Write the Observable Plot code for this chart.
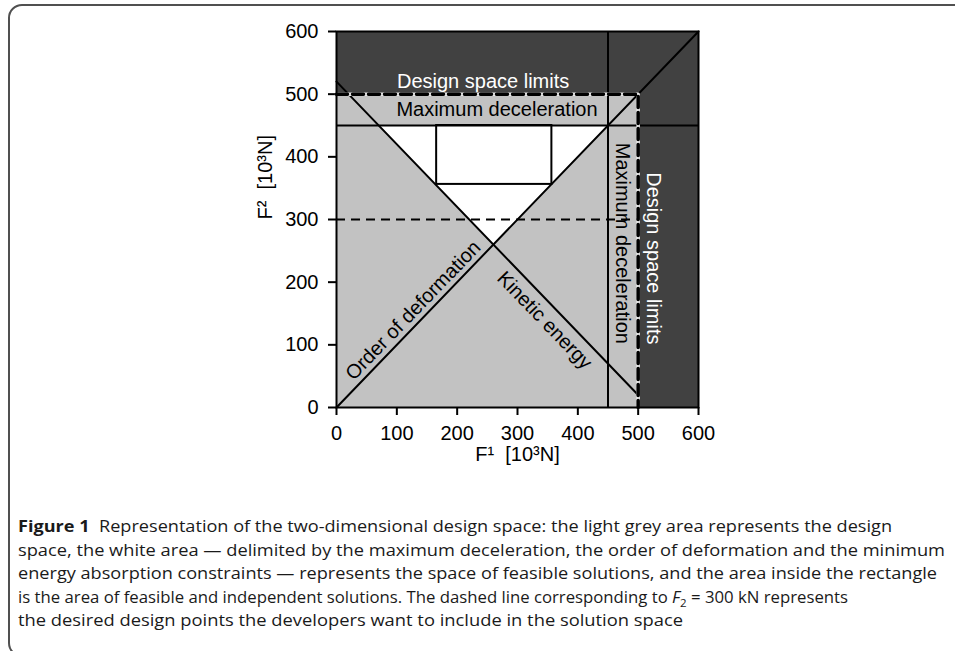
<!DOCTYPE html>
<html>
<head>
<meta charset="utf-8">
<script src="https://cdn.jsdelivr.net/npm/d3@7"></script>
<script src="https://cdn.jsdelivr.net/npm/@observablehq/plot@0.6"></script>
<style>
  html, body { margin: 0; padding: 0; background: #fff; width: 955px; height: 651px; overflow: hidden; }
  #frame { position: absolute; left: 8px; top: 4px; width: 990px; height: 653px; border: 2px solid #505050; border-radius: 14px; box-sizing: border-box; }
  #chart { position: absolute; left: 0; top: 0; }
  #chart svg g[aria-label$="tick"] { stroke-width: 2; }
  #caption { position: absolute; left: 18px; top: 515px; font-family: "Open Sans", "Noto Sans", sans-serif; font-size: 16px; color: #1a1a1a; }
  #caption .ln { white-space: nowrap; height: 23.5px; line-height: 23.5px; transform-origin: 0 50%; }
  #caption b { font-weight: 700; }
</style>
</head>
<body>
<div id="frame"></div>
<div id="chart"></div>
<div id="caption">
  <div class="ln"><b>Figure 1</b>&nbsp; Representation of the two-dimensional design space: the light grey area represents the design</div>
  <div class="ln">space, the white area — delimited by the maximum deceleration, the order of deformation and the minimum</div>
  <div class="ln">energy absorption constraints — represents the space of feasible solutions, and the area inside the rectangle</div>
  <div class="ln">is the area of feasible and independent solutions. The dashed line corresponding to <i>F</i><sub style="font-size:11px">2</sub> = 300 kN represents</div>
  <div class="ln">the desired design points the developers want to include in the solution space</div>
</div>
<script>
// ---- data (units: 10^3 N) ----
const axisTicks = [0, 100, 200, 300, 400, 500, 600];
const plotRange = [0, 600];
const designSpaceLimit = 500;          // light grey square 0..500
const maxDeceleration = 450;           // horizontal & vertical constraint lines
const desiredF2 = 300;                 // dashed line
const orderLineX = [0, 600];           // order of deformation: F2 = F1
const orderLineY = [0, 600];
const kineticLineX = [0, 500];         // kinetic energy: F1 + F2 = 520
const kineticLineY = [520, 20];
const feasibleX = [70, 260, 450];      // white area (bottom edge), top at 450
const feasibleYLow = [450, 260, 450];
const independentX = [166, 357];       // rectangle of independent solutions
const independentY = [356, 450];
const limitPathX = [0, 500, 500];      // dashed design-space border
const limitPathY = [500, 500, 0];

const labelText = ["Design space limits", "Maximum deceleration", "Maximum deceleration", "Design space limits", "Order of deformation", "Kinetic energy"];
const labelX = [243, 266, 474, 526, 127, 345];
const labelY = [520, 475, 262, 238, 155, 139];
const labelRotate = [0, 0, 90, 90, -46, 46];
const labelDark = [false, true, true, false, true, true];

const xLabel = "F¹  [10³N]";
const yLabel = "F²  [10³N]";

// ---- derived tables ----
const labels = labelText.map((t, i) => ({t, x: labelX[i], y: labelY[i], r: labelRotate[i], dark: labelDark[i]}));
const orderLine = orderLineX.map((x, i) => ({x, y: orderLineY[i]}));
const kineticLine = kineticLineX.map((x, i) => ({x, y: kineticLineY[i]}));
const feasible = feasibleX.map((x, i) => ({x, y1: feasibleYLow[i], y2: maxDeceleration}));
const limitPath = limitPathX.map((x, i) => ({x, y: limitPathY[i]}));

const font = "Liberation Sans, Arial, sans-serif";

const plot = Plot.plot({
  width: 955,
  height: 480,
  marginLeft: 336,
  marginRight: 257,
  marginTop: 31,
  marginBottom: 73,
  style: {fontFamily: font, fontSize: "20px", color: "#000", background: "transparent", overflow: "visible"},
  x: {domain: plotRange, ticks: axisTicks, tickSize: 8, tickPadding: 10, label: null},
  y: {domain: plotRange, ticks: axisTicks, tickSize: 8, tickPadding: 10, label: null},
  marks: [
    Plot.rect([{x1: plotRange[0], x2: plotRange[1], y1: plotRange[0], y2: plotRange[1]}], {x1: "x1", x2: "x2", y1: "y1", y2: "y2", fill: "#414141"}),
    Plot.rect([{x1: 0, x2: designSpaceLimit, y1: 0, y2: designSpaceLimit}], {x1: "x1", x2: "x2", y1: "y1", y2: "y2", fill: "#c2c2c2"}),
    Plot.areaY(feasible, {x: "x", y1: "y1", y2: "y2", fill: "#fff", curve: "linear"}),
    Plot.ruleY([desiredF2], {x1: 0, x2: designSpaceLimit, stroke: "#000", strokeWidth: 2, strokeDasharray: "9,6"}),
    Plot.ruleY([maxDeceleration], {stroke: "#000", strokeWidth: 2}),
    Plot.ruleX([maxDeceleration], {stroke: "#000", strokeWidth: 2}),
    Plot.rect([{x1: independentX[0], x2: independentX[1], y1: independentY[0], y2: independentY[1]}], {x1: "x1", x2: "x2", y1: "y1", y2: "y2", fill: "none", stroke: "#000", strokeWidth: 2}),
    Plot.line(orderLine, {x: "x", y: "y", stroke: "#000", strokeWidth: 2}),
    Plot.line(kineticLine, {x: "x", y: "y", stroke: "#000", strokeWidth: 2}),
    Plot.line(limitPath, {x: "x", y: "y", stroke: "#eaeaea", strokeWidth: 3.5}),
    Plot.line(limitPath, {x: "x", y: "y", stroke: "#000", strokeWidth: 3.5, strokeDasharray: "11,5"}),
    Plot.frame({stroke: "#000", strokeWidth: 2}),
    Plot.text(labels, {x: "x", y: "y", text: "t", rotate: "r", fill: d => d.dark ? "#000" : "#fff", fontSize: 20, fontFamily: font}),
    Plot.text([xLabel], {frameAnchor: "bottom", dy: 53, text: d => d, fontSize: 20, fill: "#000"}),
    Plot.text([yLabel], {frameAnchor: "left", dx: -71, rotate: -90, text: d => d, fontSize: 20, fill: "#000"})
  ]
});
document.getElementById("chart").appendChild(plot);

// fit each caption line to the reference's condensed typeface
const lineWidths = [874, 927, 919, 830, 665];
document.querySelectorAll("#caption .ln").forEach((l, i) => {
  const range = document.createRange();
  range.selectNodeContents(l);
  const w = range.getBoundingClientRect().width;
  l.style.transform = `scaleX(${lineWidths[i] / w})`;
});
</script>
</body>
</html>
